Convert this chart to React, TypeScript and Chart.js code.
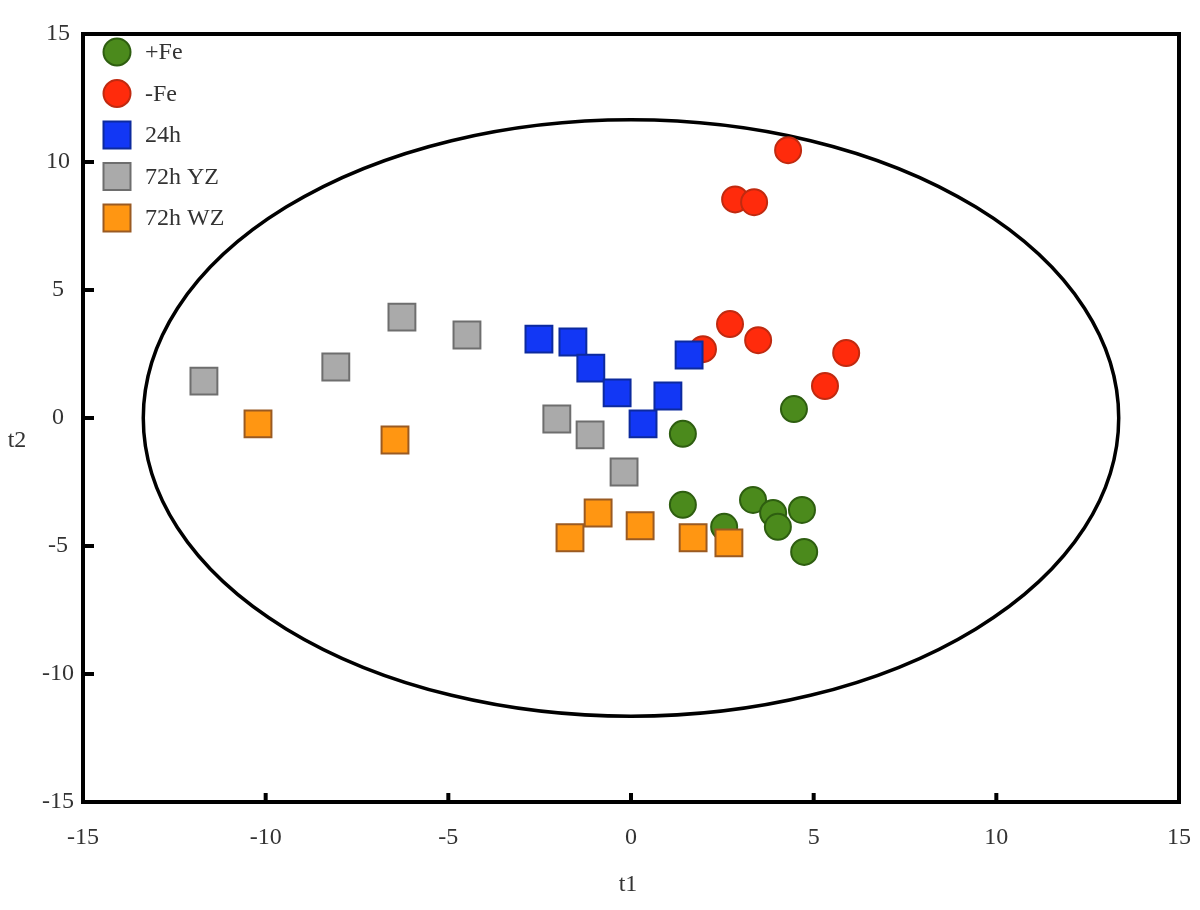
import React, { useEffect, useRef } from 'react';
import { Chart, registerables } from 'chart.js';

Chart.register(...registerables);

// ---- data ----
const seriesLabels = ['+Fe', '-Fe', '24h', '72h YZ', '72h WZ'];

const plusFeX = [4.46, 1.42, 1.42, 3.34, 3.89, 4.68, 4.02, 2.55, 4.74];
const plusFeY = [0.35, -0.62, -3.39, -3.2, -3.71, -3.59, -4.25, -4.25, -5.23];

const minusFeX = [4.3, 2.85, 3.37, 2.71, 3.48, 1.97, 5.89, 5.31];
const minusFeY = [10.46, 8.54, 8.43, 3.67, 3.04, 2.69, 2.54, 1.25];

const h24X = [-2.52, -1.59, -1.1, -0.38, 1.01, 0.33, 1.59];
const h24Y = [3.08, 2.97, 1.95, 0.98, 0.86, -0.23, 2.46];

const h72yzX = [-11.69, -8.08, -6.27, -4.49, -2.03, -1.12, -0.19];
const h72yzY = [1.44, 1.99, 3.94, 3.24, -0.04, -0.66, -2.11];

const h72wzX = [-10.21, -6.46, -0.9, -1.67, 0.25, 1.7, 2.68];
const h72wzY = [-0.23, -0.86, -3.71, -4.68, -4.21, -4.68, -4.88];

const axisMin = -15;
const axisMax = 15;
const axisStep = 5;

const ellipseCenterX = 0;
const ellipseCenterY = 0;
const ellipseRadiusX = 13.35;
const ellipseRadiusY = 11.65;

const xTitle = 't1';
const yTitle = 't2';

const fillColors = ['#4b8a1c', '#ff2b0c', '#1237f5', '#aaaaaa', '#ff9612'];
const borderColors = ['#2e5e10', '#c02a10', '#0c2a9e', '#6e6e6e', '#9a5a22'];
const pointStyles = ['circle', 'circle', 'rect', 'rect', 'rect'];
const pointRadii = [13, 13, 19, 19, 19];
const drawOrder = [5, 4, 3, 2, 1];

const zip = (xs: number[], ys: number[]) => xs.map((x, i) => ({ x, y: ys[i] }));
const seriesData = [
  zip(plusFeX, plusFeY),
  zip(minusFeX, minusFeY),
  zip(h24X, h24Y),
  zip(h72yzX, h72yzY),
  zip(h72wzX, h72wzY),
];

const FONT = '"Liberation Serif", "Times New Roman", serif';

const decorPlugin = {
  id: 'decor',
  beforeDatasetsDraw(chart: any) {
    const { ctx, scales } = chart;
    const x = scales.x;
    const y = scales.y;
    const cx = x.getPixelForValue(ellipseCenterX);
    const cy = y.getPixelForValue(ellipseCenterY);
    const rx = Math.abs(x.getPixelForValue(ellipseCenterX + ellipseRadiusX) - cx);
    const ry = Math.abs(y.getPixelForValue(ellipseCenterY + ellipseRadiusY) - cy);
    ctx.save();
    ctx.beginPath();
    ctx.ellipse(cx, cy, rx, ry, 0, 0, Math.PI * 2);
    ctx.lineWidth = 3.5;
    ctx.strokeStyle = '#000';
    ctx.stroke();
    ctx.restore();
  },
  afterDraw(chart: any) {
    const { ctx, chartArea: ca, scales } = chart;
    const x = scales.x;
    const y = scales.y;
    ctx.save();
    // frame
    ctx.lineWidth = 4;
    ctx.strokeStyle = '#000';
    ctx.strokeRect(ca.left, ca.top, ca.right - ca.left, ca.bottom - ca.top);
    // inward ticks
    ctx.lineWidth = 4;
    ctx.beginPath();
    x.ticks.forEach((t: any) => {
      const px = x.getPixelForValue(t.value);
      ctx.moveTo(px, ca.bottom);
      ctx.lineTo(px, ca.bottom - 9);
    });
    y.ticks.forEach((t: any) => {
      const py = y.getPixelForValue(t.value);
      ctx.moveTo(ca.left, py);
      ctx.lineTo(ca.left + 11, py);
    });
    ctx.stroke();

    // legend
    ctx.font = `24px ${FONT}`;
    ctx.textBaseline = 'middle';
    ctx.textAlign = 'left';
    chart.data.datasets.forEach((ds: any, i: number) => {
      const mx = ca.left + 34;
      const my = ca.top + 18 + i * 41.5;
      ctx.fillStyle = ds.backgroundColor;
      ctx.strokeStyle = ds.borderColor;
      ctx.lineWidth = 2;
      ctx.beginPath();
      if (ds.pointStyle === 'circle') {
        ctx.arc(mx, my, 13.5, 0, Math.PI * 2);
      } else {
        ctx.rect(mx - 13.5, my - 13.5, 27, 27);
      }
      ctx.fill();
      ctx.stroke();
      ctx.fillStyle = '#333';
      ctx.fillText(ds.label, ca.left + 62, my + 1);
    });

    // axis titles
    ctx.fillStyle = '#333';
    ctx.textAlign = 'center';
    ctx.fillText(xTitle, 628, 885);
    ctx.fillText(yTitle, 17, 441);
    ctx.restore();
  },
};

export default function App() {
  const canvasRef = useRef<HTMLCanvasElement | null>(null);

  useEffect(() => {
    document.body.style.margin = '0';
    const canvas = canvasRef.current;
    if (!canvas) return;
    const chart = new Chart(canvas, {
      type: 'scatter',
      data: {
        datasets: seriesLabels.map((label, i) => ({
          label,
          data: seriesData[i],
          backgroundColor: fillColors[i],
          borderColor: borderColors[i],
          borderWidth: 2,
          pointStyle: pointStyles[i],
          pointRadius: pointRadii[i],
          pointHoverRadius: pointRadii[i],
          order: drawOrder[i],
        })),
      },
      options: {
        responsive: false,
        animation: false,
        layout: { padding: { left: 0, top: 34, right: 21, bottom: 0 } },
        plugins: {
          legend: { display: false },
          tooltip: { enabled: false },
        },
        scales: {
          x: {
            type: 'linear',
            min: axisMin,
            max: axisMax,
            grid: { display: false, drawTicks: false },
            border: { display: false },
            ticks: {
              stepSize: axisStep,
              padding: 21,
              color: '#333',
              font: { family: FONT, size: 24 },
            },
            afterFit: (scale: any) => {
              scale.height = 108;
              scale.paddingLeft = 0;
              scale.paddingRight = 0;
            },
          },
          y: {
            type: 'linear',
            min: axisMin,
            max: axisMax,
            grid: { display: false, drawTicks: false },
            border: { display: false },
            ticks: {
              stepSize: axisStep,
              padding: 9,
              crossAlign: 'center',
              color: '#333',
              font: { family: FONT, size: 24 },
            },
            afterFit: (scale: any) => {
              scale.width = 83;
            },
          },
        },
      } as any,
      plugins: [decorPlugin],
    });
    return () => chart.destroy();
  }, []);

  return (
    <div style={{ position: 'absolute', left: 0, top: 0, width: 1200, height: 910, background: '#fff' }}>
      <canvas ref={canvasRef} width={1200} height={910} style={{ width: 1200, height: 910, display: 'block' }} />
    </div>
  );
}
